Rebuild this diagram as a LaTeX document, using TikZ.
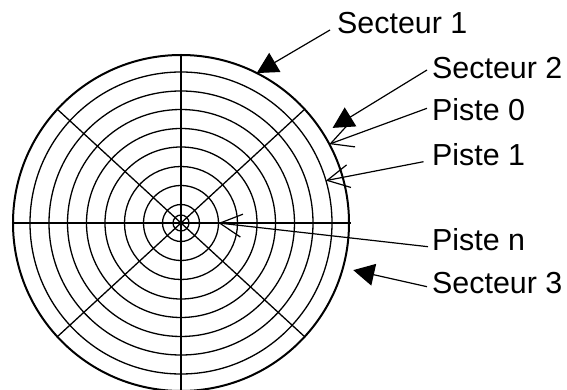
\documentclass[tikz,border=0pt]{standalone}
\usepackage{fontspec}
\setmainfont{Liberation Sans}
\usetikzlibrary{arrows.meta,calc}

\begin{document}
\begin{tikzpicture}[x=1pt,y=1pt,
  lab/.style={anchor=base west,inner sep=0pt,font=\fontsize{30.4}{36}\selectfont},
  ring/.style={line width=1.3pt},
  axe/.style={line width=2pt},
  sec/.style={line width=1.2pt,-{Triangle[length=21pt,width=22pt]}},
  pis/.style={line width=1.2pt,-{Straight Barb[length=22pt,width=23pt]}}]
\useasboundingbox (-181,-167) rectangle (386,223);
\clip (-181,-167) rectangle (386,223);
\coordinate (o) at (0,0);
% disque et pistes
\draw[axe] (o) circle (168);
\foreach \r in {151,132,113.5,94.5,76,56.5,37.5,18.5,8}
  \draw[ring] (o) circle (\r);
% secteurs
\draw[axe] (-169,0) -- (170,0);
\draw[axe] (0,168) -- (0,-168);
\draw[ring] (42.6:167) -- (222.6:167);
\draw[ring] (137.4:167) -- (317.4:167);
% legendes
\node[lab] (sect1) at (156,189) {Secteur 1};
\node[lab] (sect2) at (251,144.5) {Secteur 2};
\node[lab] (piste0) at (251,102) {Piste 0};
\node[lab] (piste1) at (251,57.5) {Piste 1};
\node[lab] (pisten) at (251,-28) {Piste n};
\node[lab] (sect3) at (251,-70.5) {Secteur 3};
\coordinate (t1) at (63.2:168);
\coordinate (t2) at (32.1:179);
\coordinate (t3) at (-15.3:178.6);
\coordinate (p0) at (28:168);
\coordinate (p1) at (16.3:151);
\coordinate (pn) at (0:37.5);
\draw[sec] ([shift={(-7,4)}]sect1.base west) -- (t1);
\draw[sec] ([shift={(-5,8.5)}]sect2.base west) -- (t2);
\draw[sec] ([shift={(-5,6.8)}]sect3.base west) -- (t3);
\draw[pis] ([shift={(-5,12.7)}]piste0.base west) -- (p0);
\draw[pis] ([shift={(-8.5,3.8)}]piste1.base west) -- (p1);
\draw[pis] ([shift={(-4,4.3)}]pisten.base west) -- (pn);
\end{tikzpicture}
\end{document}
